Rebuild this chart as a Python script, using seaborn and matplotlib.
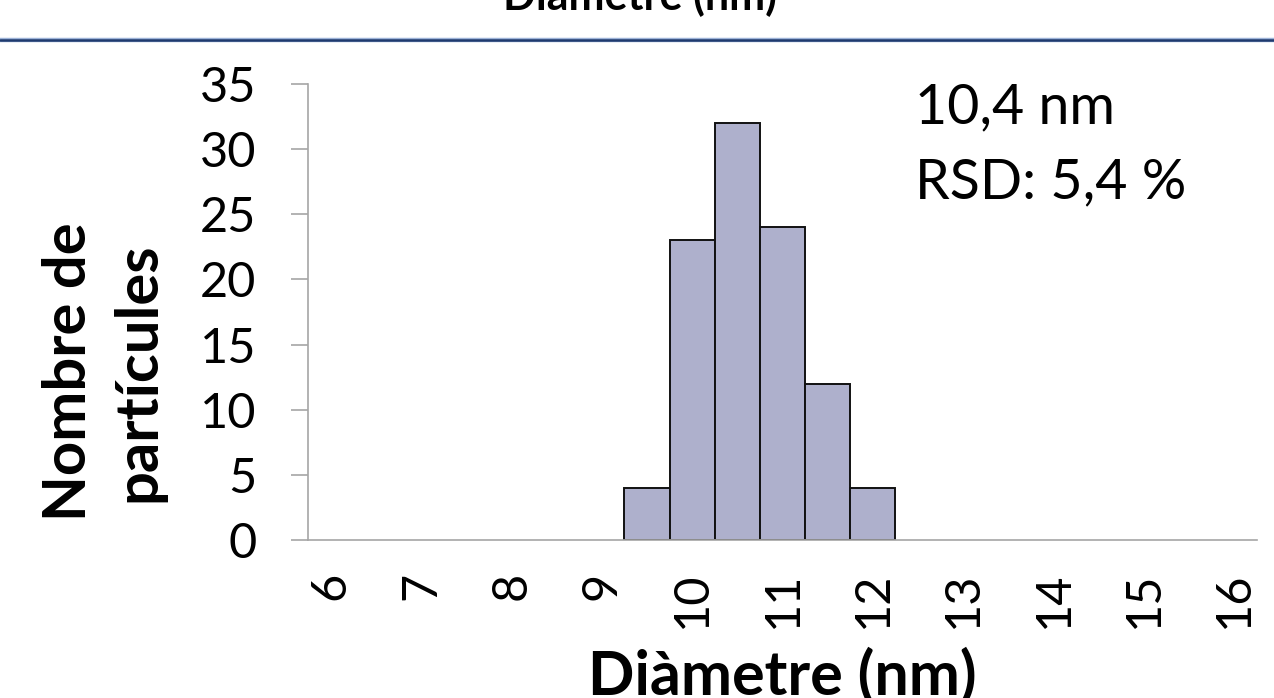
import matplotlib
matplotlib.use("Agg")
import matplotlib.pyplot as plt
from matplotlib.lines import Line2D
import seaborn as sns
import pandas as pd

# ---- data ----
bin_labels = ["6", "6,5", "7", "7,5", "8", "8,5", "9", "9,5", "10", "10,5", "11",
              "11,5", "12", "12,5", "13", "13,5", "14", "14,5", "15", "15,5", "16"]
diameters = ["9,5", "10", "10,5", "11", "11,5", "12"]
counts = [4, 23, 32, 24, 12, 4]
tick_labels = ["6", "7", "8", "9", "10", "11", "12", "13", "14", "15", "16"]
y_ticks = [0, 5, 10, 15, 20, 25, 30, 35]
title_text = "Diàmetre (nm)"
x_title = "Diàmetre (nm)"
y_title = "Nombre de\npartícules"
note_mean = "10,4 nm"
note_rsd = "RSD: 5,4 %"

df = pd.DataFrame({"diam": diameters, "count": counts})

sns.set_theme(style="white")
plt.rcParams["font.family"] = ["Lato", "DejaVu Sans"]
plt.rcParams["text.color"] = "black"
plt.rcParams["axes.labelcolor"] = "black"

W, H = 1274, 698
fig = plt.figure(figsize=(W / 100, H / 100), dpi=100)
ax = fig.add_axes([308 / W, 1 - 540 / H, (1257 - 308) / W, (540 - 84) / H])

sns.barplot(data=df, x="diam", y="count", order=bin_labels, width=1.0,
            color="#AEB0CC", saturation=1, edgecolor="#111111", linewidth=1.4,
            ax=ax)

ax.set_xlim(-0.5, len(bin_labels) - 0.5)
ax.set_ylim(0, 35)
ax.set_yticks(y_ticks)
ax.set_yticklabels([str(v) for v in y_ticks])
tick_pos = [bin_labels.index(t) for t in tick_labels]
ax.set_xticks(tick_pos)
ax.set_xticklabels(tick_labels, rotation=90)

for s in ["top", "right"]:
    ax.spines[s].set_visible(False)
for s in ["left", "bottom"]:
    ax.spines[s].set_color("#A6A6A6")
    ax.spines[s].set_linewidth(1.2)

ax.tick_params(axis="x", length=0, pad=23, labelsize=35, labelcolor="black")
ax.tick_params(axis="y", left=True, length=12.2, width=1.2, color="#A6A6A6",
               pad=25, labelsize=35, labelcolor="black")

ax.set_xlabel(x_title, fontsize=44, fontweight="bold", va="baseline",
              color="black")
ax.xaxis.set_label_coords(0.5, (540 - 694) / 456)
ax.set_ylabel(y_title, fontsize=43, fontweight="bold", va="center",
              multialignment="center", linespacing=1.35, color="black")
ax.yaxis.set_label_coords((104 - 308) / 949, (540 - 372) / 456)

fig.text(915 / W, 1 - 123 / H, note_mean, fontsize=40, va="baseline", ha="left")
fig.text(915 / W, 1 - 198 / H, note_rsd, fontsize=40, va="baseline", ha="left")

# cut-off title from slide above and separator line
fig.text(640 / W, 1 - 10 / H, title_text, fontsize=31, fontweight="bold",
         ha="center", va="baseline")
yline = 1 - 39.5 / H
fig.add_artist(Line2D([0, 1], [yline, yline], transform=fig.transFigure,
                      color="#9DB3D8", linewidth=3.2))
fig.add_artist(Line2D([0, 1], [yline, yline], transform=fig.transFigure,
                      color="#1F3A6E", linewidth=1.8))

fig.savefig("out.png", dpi=100)
